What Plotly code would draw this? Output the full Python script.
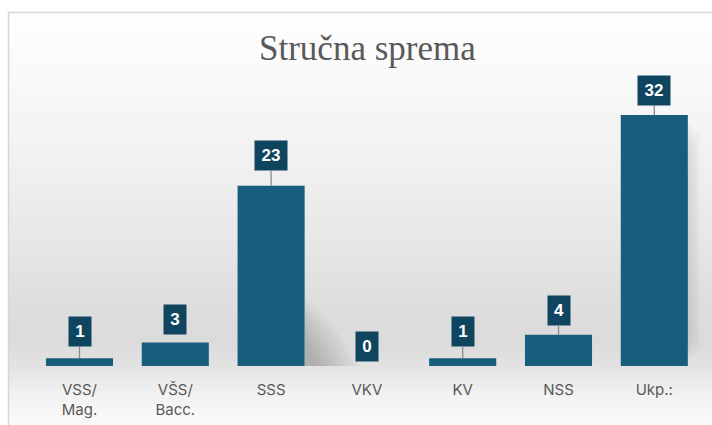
import plotly.graph_objects as go

# ---- data ----
categories = ["VSS/<br>Mag.", "VŠS/<br>Bacc.", "SSS", "VKV", "KV", "NSS", "Ukp.:"]
values = [1, 3, 23, 0, 1, 4, 32]

# ---- styling ----
W, H = 712, 425
bar_color = "#185c7e"
box_color = "#10455f"
label_offsets = [-27, -23, -30, -20, -27, -24, -25]   # px from bar top to label box center
leader_line = [True, False, True, False, True, True, True]

def px_x(p):
    return p / W

def px_y(p):
    return 1 - p / H

fig = go.Figure()
fig.add_trace(go.Bar(
    x=categories, y=values,
    marker=dict(color=bar_color, line=dict(width=0)),
    hoverinfo="x+y",
))

shapes = []
# background gradient (vertical)
stops = [(12, 254), (80, 249), (160, 241), (240, 231), (300, 222), (345, 219),
         (370, 228), (395, 242), (425, 250)]
def gray_at(y):
    for (y0, g0), (y1, g1) in zip(stops[:-1], stops[1:]):
        if y0 <= y <= y1:
            t = (y - y0) / (y1 - y0)
            return g0 + (g1 - g0) * t
    return stops[-1][1]

step = 3
y = 12
while y < H:
    g = int(round(gray_at(y + step / 2)))
    shapes.append(dict(type="rect", xref="paper", yref="paper",
                       x0=px_x(9), x1=1.01, y0=px_y(min(y + step, H)) - 0.001, y1=px_y(y),
                       fillcolor=f"rgb({g},{g},{g})", line=dict(width=0), layer="below"))
    y += step

# soft cast shadows (decorative)
def poly(pts):
    return "M " + " L ".join(f"{px_x(a)},{px_y(b)}" for a, b in pts) + " Z"

n = 10
for k in range(n):
    d = k * 3
    shapes.append(dict(type="path", xref="paper", yref="paper",
                       path=poly([(305, 366), (305, 298 + d * 1.5), (330 - d, 322 + d), (360 - d * 1.5, 366)]),
                       fillcolor="rgba(50,50,50,0.028)", line=dict(width=0), layer="below"))
    shapes.append(dict(type="path", xref="paper", yref="paper",
                       path=poly([(688, 360 - d), (688, 122 + d * 2), (700 - d, 135 + d * 2), (700 - d, 350 - d * 2)]),
                       fillcolor="rgba(50,50,50,0.03)", line=dict(width=0), layer="below"))

# frame
shapes.append(dict(type="rect", xref="paper", yref="paper",
                   x0=px_x(8.5), x1=1.05, y0=-0.05, y1=px_y(12.5),
                   line=dict(color="#d6d6d6", width=1.5), fillcolor="rgba(0,0,0,0)", layer="above"))

annotations = []
annotations.append(dict(text="Stručna sprema", xref="paper", yref="paper",
                        x=px_x(367.5), y=px_y(49), xanchor="center", yanchor="middle",
                        showarrow=False,
                        font=dict(family="Liberation Serif, Times New Roman, serif", size=35, color="#595959")))

for cat, v, off, lead in zip(categories, values, label_offsets, leader_line):
    txt = str(v)
    annotations.append(dict(
        x=cat, y=v, xref="x", yref="y", text=f"<b>{txt}</b>",
        showarrow=True, arrowhead=0, arrowwidth=1.3,
        arrowcolor="#8a8a8a" if lead else "rgba(0,0,0,0)",
        ax=0, ay=off, standoff=0,
        bgcolor=box_color, borderpad=0,
        width=12 + 10 * len(txt), height=29,
        font=dict(family="Liberation Sans, Arial, sans-serif", size=17, color="white"),
        align="center", valign="middle",
    ))

fig.update_layout(
    width=W, height=H,
    margin=dict(l=0, r=0, t=0, b=0),
    paper_bgcolor="white", plot_bgcolor="rgba(0,0,0,0)",
    bargap=0.30,
    showlegend=False,
    shapes=shapes,
    annotations=annotations,
    xaxis=dict(domain=[px_x(31.6), px_x(702.2)], range=[-0.5, 6.5],
               showgrid=False, zeroline=False, showline=False, ticks="",
               tickfont=dict(family="Inter, Open Sans, sans-serif", size=15, color="#595959"),
               ticklabelstandoff=13, fixedrange=True),
    yaxis=dict(domain=[px_y(366), px_y(366 - 39 * 7.84)], range=[0, 39],
               visible=False, fixedrange=True),
)

fig.write_html("out.html", config={"displayModeBar": False},
               post_script="document.body.style.margin='0';document.body.style.overflow='hidden';")
